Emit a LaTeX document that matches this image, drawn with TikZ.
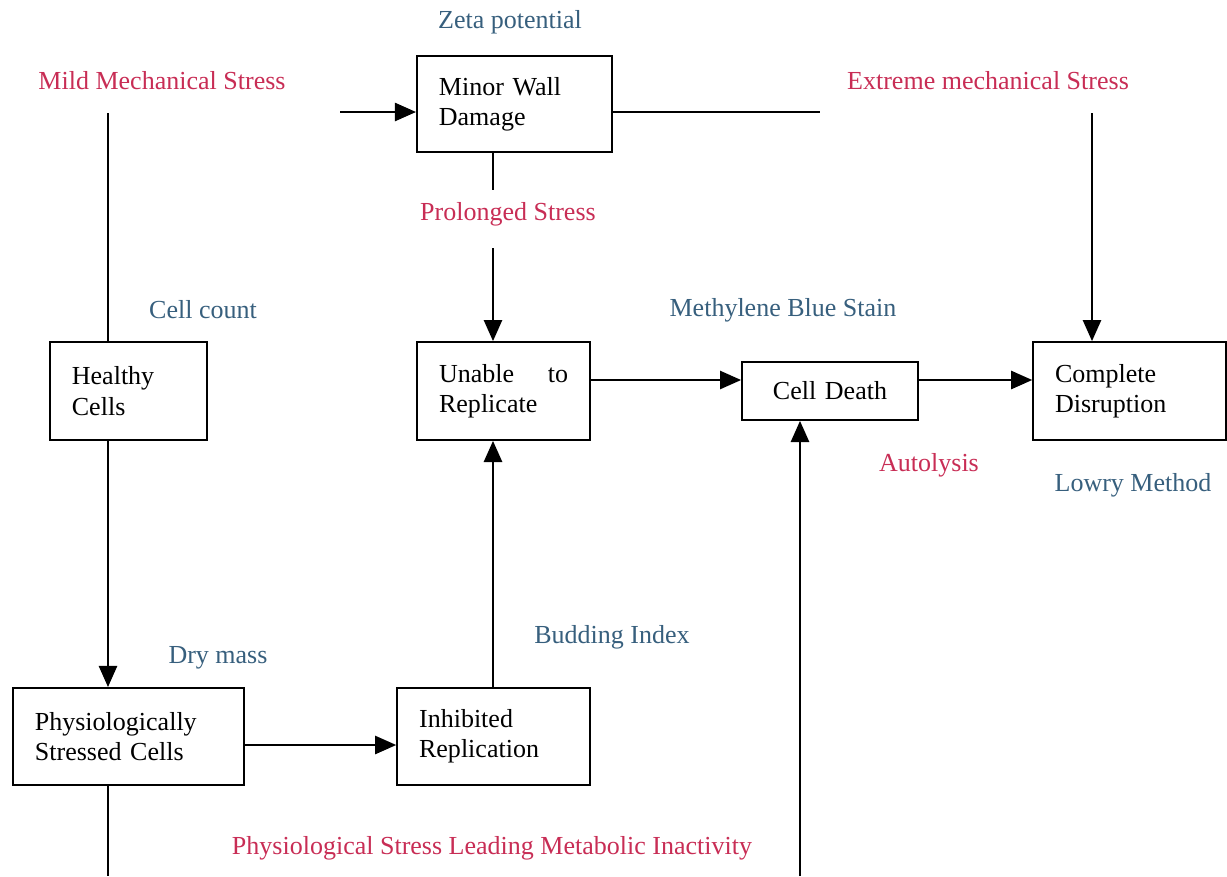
\documentclass[tikz,border=0pt]{standalone}
\usepackage{fontspec}
\setmainfont{Liberation Serif}
\usepackage{tikz}
\usetikzlibrary{arrows,arrows.meta}
\usetikzlibrary{positioning}

\definecolor{stressred}{RGB}{200,45,85}
\definecolor{assayblue}{RGB}{55,95,125}

\begin{document}
\begin{tikzpicture}[-,>={Triangle[length=15pt,width=13pt]},line width=1.3pt,
                    font=\fontsize{18.5}{21.5}\selectfont,
                    box/.style={draw,align=left,inner xsep=0.55cm,minimum height=2.45cm},
                    stress/.style={text=stressred},
                    assay/.style={text=assayblue}]

  \useasboundingbox (0,0) rectangle (30.675,-21.9);

  % boxes
  \node[box,text width=3.775cm,minimum height=2.4cm] (minor) at (12.86,-2.6) {Minor Wall\\Damage};
  \node[box,text width=2.825cm] (healthy) at (3.21,-9.775) {Healthy\\Cells};
  \node[box,text width=3.225cm,align=justify] (unable) at (12.59,-9.775) {Unable to Replicate};
  \node[box,text width=3.3cm,align=center,minimum height=1.45cm] (death) at (20.75,-9.775) {Cell Death};
  \node[box,text width=3.725cm] (complete) at (28.24,-9.775) {Complete\\Disruption};
  \node[box,text width=4.675cm,minimum height=2.425cm] (phys) at (3.21,-18.41) {Physiologically\\Stressed Cells};
  \node[box,text width=3.725cm,minimum height=2.425cm] (inhib) at (12.34,-18.41) {Inhibited\\Replication};

  % labels
  \node[stress] (mild) at (4.05,-2.025) {Mild Mechanical Stress};
  \node[assay] (zeta) at (12.75,-0.55) {Zeta potential};
  \node[stress] (extreme) at (24.7,-2.025) {Extreme mechanical Stress};
  \node[stress] (prolonged) at (12.7,-5.35) {Prolonged Stress};
  \node[assay] (count) at (5.075,-7.75) {Cell count};
  \node[assay] (methylene) at (19.575,-7.75) {Methylene Blue Stain};
  \node[stress] (autolysis) at (23.225,-11.625) {Autolysis};
  \node[assay] (lowry) at (28.325,-12.125) {Lowry Method};
  \node[assay] (budding) at (15.3,-15.925) {Budding Index};
  \node[assay] (drymass) at (5.45,-16.45) {Dry mass};
  \node[stress] (inactivity) at (12.3,-21.2) {Physiological Stress Leading Metabolic Inactivity};

  % free ends
  \coordinate (mildtop) at (2.7,-2.825);
  \coordinate (minorin) at (8.5,-2.8);
  \coordinate (minorout) at (20.5,-2.8);
  \coordinate (extremetop) at (27.3,-2.825);
  \coordinate (minorstub) at (12.325,-4.75);
  \coordinate (prolongtop) at (12.325,-6.2);
  \coordinate (physbot) at (2.7,-21.9);
  \coordinate (deathbot) at (20.0,-21.9);
  \coordinate (midrow) at (0,-9.5);
  \coordinate (lowrow) at (0,-18.625);

  \draw (mildtop) -- (healthy.north -| mildtop);
  \draw[->] (healthy.south -| mildtop) -- (phys.north -| mildtop);
  \draw (phys.south -| mildtop) -- (physbot);
  \draw[->] (minorin) -- (minor.west |- minorin);
  \draw (minor.east |- minorout) -- (minorout);
  \draw[->] (extremetop) -- (complete.north -| extremetop);
  \draw (minor.south -| minorstub) -- (minorstub);
  \draw[->] (prolongtop) -- (unable.north -| prolongtop);
  \draw[->] (unable.east |- midrow) -- (death.west |- midrow);
  \draw[->] (death.east |- midrow) -- (complete.west |- midrow);
  \draw[->] (inhib.north -| prolongtop) -- (unable.south -| prolongtop);
  \draw[->] (phys.east |- lowrow) -- (inhib.west |- lowrow);
  \draw[->] (deathbot) -- (death.south -| deathbot);
\end{tikzpicture}
\end{document}
